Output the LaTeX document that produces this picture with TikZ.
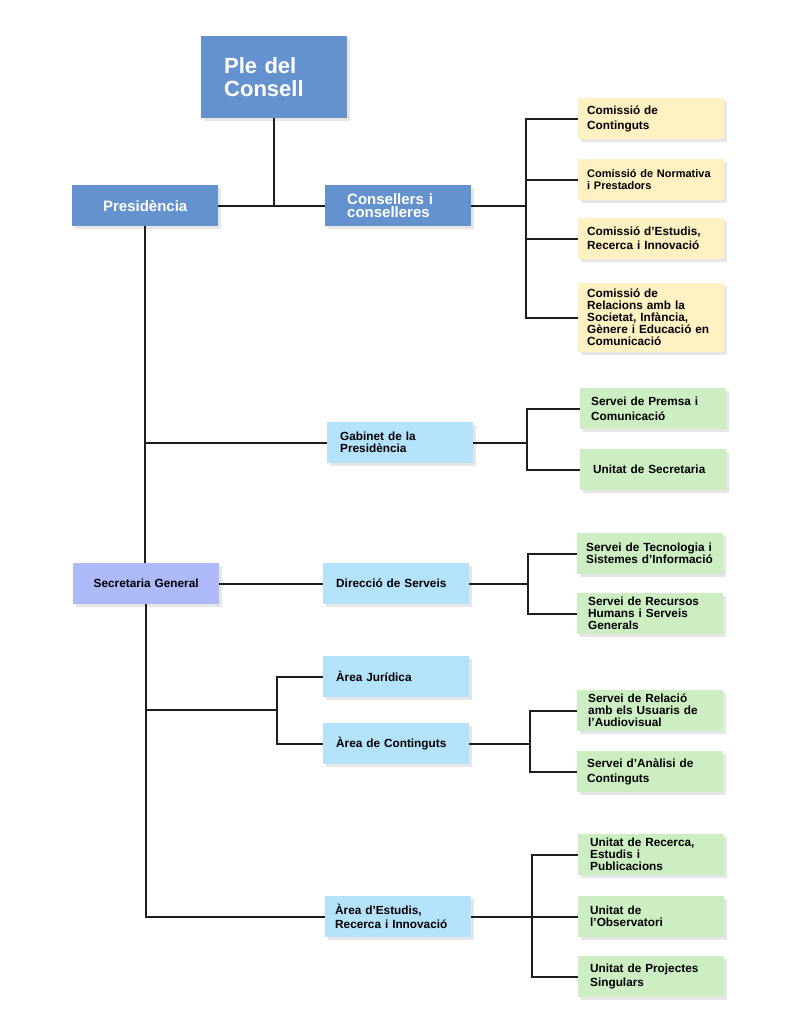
\documentclass[tikz,border=0pt]{standalone}
\usepackage{fontspec}
\setmainfont{Liberation Sans}
\usetikzlibrary{positioning,shadows,calc}
\definecolor{deepblue}{HTML}{6392CF}
\definecolor{skyblue}{HTML}{B4E2FA}
\definecolor{leafgreen}{HTML}{CDEEC2}
\definecolor{paleyellow}{HTML}{FFF1C2}
\definecolor{lavender}{HTML}{ADB9F8}
\definecolor{wire}{HTML}{1E1E1E}
\begin{document}
\begin{tikzpicture}[x=1pt,y=-1pt,
  box/.style={anchor=north west,minimum height=41pt,inner xsep=9pt,text width=128pt,
              align=left,font=\bfseries\fontsize{11.8}{12}\selectfont,
              drop shadow={opacity=0.2,shadow xshift=3pt,shadow yshift=-3pt}},
  head/.style={box,fill=deepblue,text=white,font=\bfseries\fontsize{15}{13}\selectfont},
  area/.style={box,fill=skyblue},
  unit/.style={box,fill=leafgreen},
  com/.style={box,fill=paleyellow},
  link/.style={draw=wire,line width=1.6pt}
]
\useasboundingbox (0,0) rectangle (794,1028);
\node[head,minimum height=82pt,inner xsep=23pt,text width=100pt,
      font=\bfseries\fontsize{22}{23}\selectfont] (ple) at (201,36) {Ple del\\Consell};
\node[head,align=center] (pres) at (72,185) {Presidència};
\node[head,inner xsep=22pt,text width=102pt] (cons) at (325,185) {Consellers i\\conselleres};
\node[com] (c1) at (578,98) {Comissió de\\[3pt]Continguts};
\node[com,font=\bfseries\fontsize{11}{12}\selectfont] (c2) at (578,159) {Comissió de Normativa\\ i Prestadors};
\node[com] (c3) at (578,218) {Comissió d’Estudis,\\[2pt]Recerca i Innovació};
\node[com,minimum height=69pt] (c4) at (578,283) {Comissió de\\Relacions amb la\\Societat, Infància,\\Gènere i Educació en\\Comunicació};
\node[area,inner xsep=13pt,text width=120pt] (gab) at (327,422) {Gabinet de la\\Presidència};
\node[unit,inner xsep=11pt,text width=124pt] (prem) at (580,388) {Servei de Premsa i\\[3pt]Comunicació};
\node[unit,inner xsep=13pt,text width=120pt] (usec) at (580,449) {Unitat de Secretaria};
\node[box,fill=lavender,align=center] (sg) at (73,563) {Secretaria General};
\node[area,inner xsep=13pt,text width=120pt] (dir) at (323,563) {Direcció de Serveis};
\node[unit] (tec) at (577,533) {Servei de Tecnologia i\\Sistemes d’Informació};
\node[unit,inner xsep=11pt,text width=124pt] (rrhh) at (577,593) {Servei de Recursos\\Humans i Serveis\\Generals};
\node[area,inner xsep=13pt,text width=120pt] (jur) at (323,656) {Àrea Jurídica};
\node[area,inner xsep=13pt,text width=120pt] (cont) at (323,723) {Àrea de Continguts};
\node[unit,inner xsep=11pt,text width=124pt] (rel) at (577,690) {Servei de Relació\\amb els Usuaris de\\l’Audiovisual};
\node[unit,inner xsep=10pt,text width=126pt] (anal) at (577,751) {Servei d’Anàlisi de\\[3pt]Continguts};
\node[area,inner xsep=10pt,text width=126pt] (est) at (325,896) {Àrea d’Estudis,\\[2pt]Recerca i Innovació};
\node[unit,inner xsep=12pt,text width=122pt] (urec) at (578,834) {Unitat de Recerca,\\Estudis i\\Publicacions};
\node[unit,inner xsep=12pt,text width=122pt] (obs) at (578,896) {Unitat de\\l’Observatori};
\node[unit,inner xsep=12pt,text width=122pt] (proj) at (578,956) {Unitat de Projectes\\[2pt]Singulars};

\coordinate (cx) at (526,0);
\coordinate (gx) at (527,0);
\coordinate (dx) at (528,0);
\coordinate (ax) at (277,0);
\coordinate (tx) at (530,0);
\coordinate (ex) at (532,0);
\coordinate (am) at ($(jur.west -| ax)!0.5!(cont.west -| ax)$);

\draw[link] (ple.south) -- (ple.south |- pres.east);
\draw[link] (pres.east) -- (cons.west);
\draw[link] (cons.east) -- (cons.east -| cx);
\draw[link] (c1.west) -- (c1.west -| cx) -- (c4.west -| cx) -- (c4.west);
\foreach \n in {c2,c3} \draw[link] (\n.west) -- (\n.west -| cx);

\draw[link] (pres.south) -- (pres.south |- sg.north);
\draw[link] (sg.south) -- (sg.south |- est.west) -- (est.west);
\draw[link] (pres.south |- gab.west) -- (gab.west);
\draw[link] (sg.east) -- (dir.west);
\draw[link] (sg.south |- am) -- (am);
\draw[link] (jur.west) -- (jur.west -| ax) -- (cont.west -| ax) -- (cont.west);

\draw[link] (gab.east) -- (gab.east -| gx);
\draw[link] (prem.west) -- (prem.west -| gx) -- (usec.west -| gx) -- (usec.west);
\draw[link] (dir.east) -- (dir.east -| dx);
\draw[link] (tec.west) -- (tec.west -| dx) -- (rrhh.west -| dx) -- (rrhh.west);
\draw[link] (cont.east) -- (cont.east -| tx);
\draw[link] (rel.west) -- (rel.west -| tx) -- (anal.west -| tx) -- (anal.west);
\draw[link] (est.east) -- (est.east -| ex);
\draw[link] (urec.west) -- (urec.west -| ex) -- (proj.west -| ex) -- (proj.west);
\draw[link] (obs.west) -- (obs.west -| ex);
\end{tikzpicture}
\end{document}
